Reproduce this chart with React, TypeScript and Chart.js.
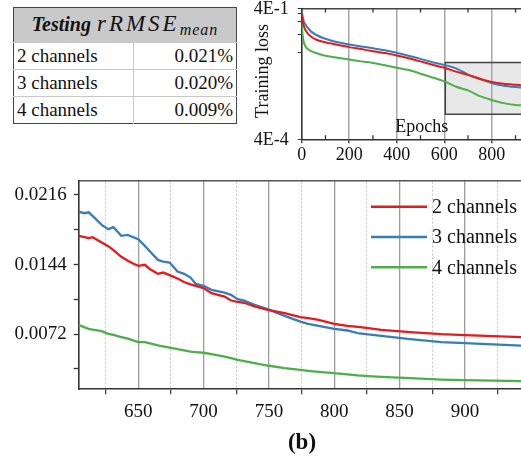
import React, { useEffect, useRef } from 'react';
import { Chart, registerables } from 'chart.js';
Chart.register(...registerables);

const seriesLabels = ['2 channels', '3 channels', '4 channels'];
const seriesColors = ['#e41a1c', '#377eb8', '#4daf4a'];

// zoomed view (epochs 604..943)
const zoomEpochs = [604, 609, 612, 615, 622, 627, 631, 637, 642, 646, 650, 655, 659, 665, 669, 674, 680, 685, 690, 694, 700, 706, 716, 721, 726, 731, 739, 749, 762, 774, 780, 788, 800, 810, 818, 826, 836, 858, 882, 900, 943];
const zoomRmse2 = [0.01737, 0.01723, 0.01713, 0.01723, 0.01667, 0.0163, 0.0159, 0.0152, 0.0148, 0.0145, 0.01426, 0.01437, 0.01392, 0.01344, 0.01357, 0.0133, 0.01295, 0.0126, 0.01235, 0.0122, 0.01196, 0.01144, 0.01109, 0.01068, 0.01055, 0.01045, 0.01006, 0.00971, 0.00937, 0.00896, 0.00886, 0.00868, 0.00827, 0.00806, 0.00795, 0.00782, 0.00765, 0.00741, 0.0072, 0.0071, 0.00689];
const zoomRmse3 = [0.01988, 0.01971, 0.0198, 0.01943, 0.0185, 0.01806, 0.01826, 0.01737, 0.01747, 0.01723, 0.01702, 0.01633, 0.01575, 0.01488, 0.01471, 0.0146, 0.01367, 0.01344, 0.01305, 0.0124, 0.0122, 0.01178, 0.0115, 0.01127, 0.01082, 0.01068, 0.01023, 0.00979, 0.00909, 0.0085, 0.00827, 0.00806, 0.00775, 0.00758, 0.0073, 0.00718, 0.00703, 0.00668, 0.00637, 0.00627, 0.00602];
const zoomRmse4 = [0.00816, 0.0079, 0.00775, 0.00768, 0.00752, 0.00723, 0.00712, 0.0069, 0.00673, 0.00655, 0.00637, 0.00637, 0.00624, 0.00605, 0.00595, 0.0058, 0.00565, 0.00552, 0.0054, 0.00535, 0.00528, 0.00513, 0.00489, 0.00472, 0.00454, 0.00441, 0.0042, 0.00396, 0.00369, 0.00351, 0.00341, 0.0033, 0.00317, 0.00305, 0.00294, 0.00286, 0.00278, 0.00265, 0.00251, 0.00245, 0.00234];
const zoomYTicks = [0.0036, 0.0072, 0.0108, 0.0144, 0.018, 0.0216];
const zoomYLabels = ['', '0.0072', '', '0.0144', '', '0.0216'];
const zoomXTicks = [625, 650, 675, 700, 725, 750, 775, 800, 825, 850, 875, 900, 925];
const zoomXMinor = [625, 675, 725, 775, 825, 875, 925];

// inset: training loss (log scale)
const lossEpochs = [0, 3, 8, 15, 25, 40, 60, 90, 130, 200, 250, 300, 350, 400, 450, 500, 550, 600, 650, 700, 750, 800, 850, 900, 930];
const loss2 = [0.3, 0.22, 0.165, 0.13, 0.108, 0.09, 0.078, 0.069, 0.062, 0.052, 0.047, 0.042, 0.038, 0.0336, 0.029, 0.0245, 0.0205, 0.0175, 0.01426, 0.012, 0.0097, 0.0083, 0.0075, 0.0071, 0.0069];
const loss3 = [0.36, 0.28, 0.21, 0.175, 0.145, 0.118, 0.1, 0.084, 0.072, 0.06, 0.054, 0.049, 0.044, 0.0386, 0.033, 0.028, 0.0235, 0.0203, 0.017, 0.0122, 0.0098, 0.00775, 0.0068, 0.0063, 0.0061];
const loss4 = [0.2, 0.11, 0.07, 0.055, 0.047, 0.042, 0.038, 0.034, 0.031, 0.0272, 0.0245, 0.0225, 0.02, 0.0176, 0.0155, 0.0128, 0.0105, 0.0085, 0.0064, 0.0053, 0.0039, 0.0032, 0.0027, 0.00245, 0.0024];
const lossYTicks = [0.0004, 0.04, 0.1, 0.2, 0.3, 0.4];
const lossYLabels = [{ v: 0.4, t: '4E-1' }, { v: 0.0004, t: '4E-4' }];
const lossXTicks = [0, 200, 400, 600, 800];
const lossXMinor = [100, 300, 500, 700, 900];

const tableRows = ['2 channels', '3 channels', '4 channels'];
const tableValues = ['0.021%', '0.020%', '0.009%'];

const FONT = "'Liberation Serif', 'Times New Roman', serif";
const Z_XMIN = 604.4, Z_XMAX = 942.9, Z_YMIN = 0.0015, Z_YMAX = 0.02307;

function pts(xs: number[], ys: number[]) {
  return xs.map((x, i) => ({ x, y: ys[i] }));
}

function noPad(s: any) {
  s.paddingTop = 0;
  s.paddingBottom = 0;
  s.paddingLeft = 0;
  s.paddingRight = 0;
}

function MainChart() {
  const ref = useRef<HTMLCanvasElement>(null);
  useEffect(() => {
    const legendPlugin = {
      id: 'customLegend',
      afterDatasetsDraw(chart: any) {
        const { ctx, chartArea } = chart;
        ctx.save();
        chart.data.datasets.forEach((ds: any, i: number) => {
          const y = chartArea.top + 26 + i * 30.3;
          ctx.strokeStyle = ds.borderColor;
          ctx.lineWidth = 2.4;
          ctx.beginPath();
          ctx.moveTo(chartArea.right - 150, y);
          ctx.lineTo(chartArea.right - 94, y);
          ctx.stroke();
          ctx.fillStyle = '#111';
          ctx.font = `20px ${FONT}`;
          ctx.textBaseline = 'middle';
          ctx.textAlign = 'left';
          ctx.fillText(ds.label, chartArea.right - 89, y + 1);
        });
        ctx.restore();
      },
    };
    const chart = new Chart(ref.current!, {
      type: 'line',
      data: {
        datasets: [
          { label: seriesLabels[0], data: pts(zoomEpochs, zoomRmse2), borderColor: seriesColors[0], borderWidth: 2.3, pointRadius: 0, tension: 0 },
          { label: seriesLabels[1], data: pts(zoomEpochs, zoomRmse3), borderColor: seriesColors[1], borderWidth: 2.3, pointRadius: 0, tension: 0 },
          { label: seriesLabels[2], data: pts(zoomEpochs, zoomRmse4), borderColor: seriesColors[2], borderWidth: 2.3, pointRadius: 0, tension: 0 },
        ],
      },
      options: {
        animation: false,
        responsive: false,
        layout: { padding: { top: 10.7, left: 0, right: 0, bottom: 0 } },
        plugins: { legend: { display: false }, tooltip: { enabled: false } },
        scales: {
          x: {
            type: 'linear', position: 'bottom', min: Z_XMIN, max: Z_XMAX,
            afterBuildTicks: (s: any) => { s.ticks = zoomXTicks.map((v) => ({ value: v })); },
            afterFit: (s: any) => { s.height = 69.7; noPad(s); },
            ticks: {
              autoSkip: false, maxRotation: 0, padding: 6, color: '#111',
              font: { family: FONT, size: 19 },
              callback: (v: any) => (v % 50 === 0 ? String(v) : ''),
            },
            grid: {
              color: (c: any) => (c.tick && c.tick.value % 50 === 0 ? '#9c9c9c' : 'rgba(0,0,0,0)'),
              tickColor: (c: any) => (c.tick && c.tick.value % 50 === 0 ? 'rgba(0,0,0,0)' : '#444'),
              lineWidth: 1.3, tickLength: 5,
            },
            border: { color: '#333', width: 1.6 },
          },
          xTop: {
            type: 'linear', position: 'top', min: Z_XMIN, max: Z_XMAX,
            afterBuildTicks: (s: any) => { s.ticks = zoomXMinor.map((v) => ({ value: v })); },
            afterFit: (s: any) => { s.height = 0; noPad(s); },
            ticks: { display: false },
            grid: { color: '#c4c4c4', lineWidth: 1, drawTicks: false },
            border: { color: '#555', width: 1.6, dash: [2, 2] },
          },
          y: {
            type: 'linear', min: Z_YMIN, max: Z_YMAX,
            afterBuildTicks: (s: any) => { s.ticks = zoomYTicks.map((v) => ({ value: v })); },
            afterFit: (s: any) => { s.width = 78.7; noPad(s); },
            ticks: {
              autoSkip: false, padding: 7, color: '#111',
              font: { family: FONT, size: 19 },
              callback: (v: any, i: number) => zoomYLabels[i],
            },
            grid: { drawOnChartArea: false, tickLength: 5, tickColor: '#333', tickWidth: 1.3 },
            border: { color: '#333', width: 1.6 },
          },
        },
      },
      plugins: [legendPlugin],
    } as any);
    return () => chart.destroy();
  }, []);
  return <canvas ref={ref} width={521} height={289} style={{ position: 'absolute', left: 0, top: 170, width: 521, height: 289 }} />;
}

function InsetChart() {
  const ref = useRef<HTMLCanvasElement>(null);
  useEffect(() => {
    const boxPlugin = {
      id: 'zoomBox',
      beforeDraw(chart: any) {
        const { ctx, chartArea, scales } = chart;
        const x0 = scales.x.getPixelForValue(Z_XMIN);
        const y0 = scales.y.getPixelForValue(Z_YMAX);
        const y1 = scales.y.getPixelForValue(Z_YMIN);
        ctx.save();
        ctx.fillStyle = '#e8e8e8';
        ctx.fillRect(x0, y0, chartArea.right - x0 + 5, y1 - y0);
        ctx.restore();
      },
      beforeDatasetsDraw(chart: any) {
        const { ctx, chartArea, scales } = chart;
        const x0 = scales.x.getPixelForValue(Z_XMIN);
        const y0 = scales.y.getPixelForValue(Z_YMAX);
        const y1 = scales.y.getPixelForValue(Z_YMIN);
        ctx.save();
        ctx.strokeStyle = '#444';
        ctx.lineWidth = 1.5;
        ctx.strokeRect(x0, y0, chartArea.right - x0 + 5, y1 - y0);
        // inward minor ticks on top and bottom borders
        ctx.strokeStyle = '#333';
        ctx.lineWidth = 1.3;
        lossXMinor.forEach((v) => {
          const x = scales.x.getPixelForValue(v);
          ctx.beginPath();
          ctx.moveTo(x, chartArea.top);
          ctx.lineTo(x, chartArea.top + 4);
          ctx.moveTo(x, chartArea.bottom);
          ctx.lineTo(x, chartArea.bottom - 4);
          ctx.stroke();
        });
        ctx.restore();
      },
      afterDatasetsDraw(chart: any) {
        const { ctx, chartArea, scales } = chart;
        ctx.save();
        ctx.fillStyle = '#111';
        ctx.font = `18px ${FONT}`;
        ctx.textBaseline = 'middle';
        ctx.textAlign = 'right';
        lossYLabels.forEach((l) => {
          ctx.fillText(l.t, chartArea.left - 13, scales.y.getPixelForValue(l.v) + 1);
        });
        ctx.textAlign = 'center';
        ctx.fillText('Epochs', 181.7, 127);
        ctx.translate(23.5, 71);
        ctx.rotate(-Math.PI / 2);
        ctx.fillText('Training loss', 0, 0);
        ctx.restore();
      },
    };
    const chart = new Chart(ref.current!, {
      type: 'line',
      data: {
        datasets: [
          { label: seriesLabels[0], data: pts(lossEpochs, loss2), borderColor: seriesColors[0], borderWidth: 2, pointRadius: 0, tension: 0.2 },
          { label: seriesLabels[1], data: pts(lossEpochs, loss3), borderColor: seriesColors[1], borderWidth: 2, pointRadius: 0, tension: 0.2 },
          { label: seriesLabels[2], data: pts(lossEpochs, loss4), borderColor: seriesColors[2], borderWidth: 2, pointRadius: 0, tension: 0.2 },
        ],
      },
      options: {
        animation: false,
        responsive: false,
        layout: { padding: { top: 8.5, left: 0, right: 0, bottom: 0 } },
        plugins: { legend: { display: false }, tooltip: { enabled: false } },
        scales: {
          x: {
            type: 'linear', position: 'bottom', min: 0, max: 923,
            afterBuildTicks: (s: any) => { s.ticks = lossXTicks.map((v) => ({ value: v })); },
            afterFit: (s: any) => { s.height = 30.7; noPad(s); },
            ticks: {
              autoSkip: false, maxRotation: 0, padding: 1, color: '#111',
              font: { family: FONT, size: 18 },
            },
            grid: {
              color: (c: any) => (c.tick && c.tick.value > 0 ? '#a8a8a8' : 'rgba(0,0,0,0)'),
              tickColor: '#444', lineWidth: 1.5, tickLength: 4,
            },
            border: { color: '#333', width: 1.6 },
          },
          xTop: {
            type: 'linear', position: 'top', min: 0, max: 923,
            afterFit: (s: any) => { s.height = 0; noPad(s); },
            ticks: { display: false },
            grid: { display: false },
            border: { color: '#444', width: 1.5 },
          },
          y: {
            type: 'logarithmic', min: 0.0004, max: 0.4,
            afterBuildTicks: (s: any) => { s.ticks = lossYTicks.map((v) => ({ value: v })); },
            afterFit: (s: any) => { s.width = 61.7; noPad(s); },
            ticks: { display: false, autoSkip: false },
            grid: { drawOnChartArea: false, tickLength: 4, tickColor: '#333' },
            border: { color: '#333', width: 1.6 },
          },
        },
      },
      plugins: [boxPlugin],
    } as any);
    return () => chart.destroy();
  }, []);
  return <canvas ref={ref} width={281} height={170} style={{ position: 'absolute', left: 240, top: 0, width: 281, height: 170 }} />;
}

function ResultTable() {
  const cell: React.CSSProperties = { height: 26, padding: '0 3px', fontSize: 19, borderTop: '1px solid #c8c8c8' };
  return (
    <table style={{ position: 'absolute', left: 13, top: 7, width: 224, borderCollapse: 'collapse', border: '1.5px solid #444', fontFamily: FONT, color: '#111', background: '#fff' }}>
      <thead>
        <tr>
          <th colSpan={2} style={{ height: 34, background: '#c9c9c9', fontWeight: 'normal', padding: 0, whiteSpace: 'nowrap', textAlign: 'center' }}>
            <span style={{ fontWeight: 'bold', fontStyle: 'italic', fontSize: 20 }}>Testing</span>
            <span style={{ fontStyle: 'italic', fontSize: 23, letterSpacing: 3, marginLeft: 6 }}>rRMSE</span>
            <sub style={{ fontStyle: 'italic', fontSize: 16, letterSpacing: 1, verticalAlign: -4 }}>mean</sub>
          </th>
        </tr>
      </thead>
      <tbody>
        {tableRows.map((r, i) => (
          <tr key={r}>
            <td style={{ ...cell, textAlign: 'left', borderRight: '1px solid #c8c8c8', width: 113 }}>{r}</td>
            <td style={{ ...cell, textAlign: 'right' }}>{tableValues[i]}</td>
          </tr>
        ))}
      </tbody>
    </table>
  );
}

export default function App() {
  return (
    <div style={{ position: 'fixed', left: 0, top: 0, width: 521, height: 459, background: '#fff', overflow: 'hidden' }}>
      <ResultTable />
      <InsetChart />
      <MainChart />
      <div style={{ position: 'absolute', left: 262, width: 80, top: 429, textAlign: 'center', fontFamily: FONT, fontWeight: 'bold', fontSize: 23, color: '#111' }}>(b)</div>
    </div>
  );
}
